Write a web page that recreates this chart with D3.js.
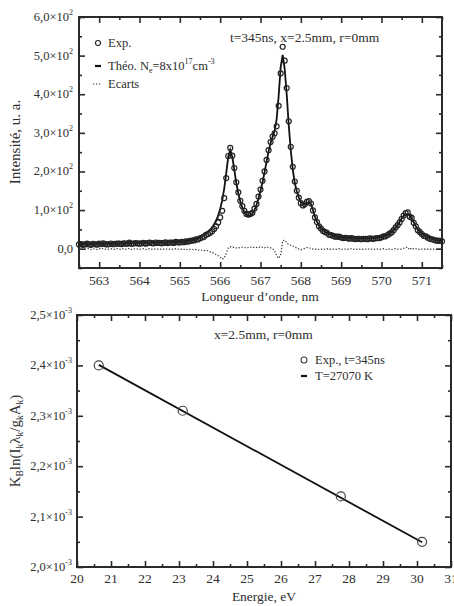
<!DOCTYPE html>
<html>
<head>
<meta charset="utf-8">
<script src="https://cdn.jsdelivr.net/npm/d3@7"></script>
<style>
body { margin: 0; background: #fff; }
svg text { font-family: "Liberation Serif", "DejaVu Serif", serif; fill: #2e2e2e; }
</style>
</head>
<body>
<svg id="chart" width="454" height="606" font-family="Liberation Serif, serif"></svg>
<script>
// ---- top panel: spectrum (wavelength grid 562.5 .. 571.5 nm, step 0.05) ----
const wlStart = 562.5, wlStep = 0.05;
const theoI = [
  12,12,12,12,12,12,12,12.5,12.5,12.5,13,13,13,13,13,13,13.5,13.5,13.5,13.5,
  14,14,14,14,14,14.5,14.5,14.5,14.5,15,15,15,15,15,15.5,15.5,15.5,16,16,16,
  16,16,16,16.5,16.5,17,17,17,17.5,17.5,18,18.5,19,20,21,22,23,24.5,26,28,
  30,33,36,40,44,49,55,63,73,86,103,125,155,195,238,256,238,205,170,143,
  122,106,95,88,85,86,91,100,113,130,150,172,198,225,252,274,290,305,335,395,
  470,502,465,400,320,255,205,170,148,133,121,114,114,118,121,116,100,83,70,60,
  53,48,44,41,38,36,34.5,33,32,31,30,29.5,29,28.5,28,27.5,27,27,26.5,26.5,
  26.5,26.5,26.5,26.5,27,27,27.5,28,28.5,29.5,30.5,32,34,36.5,40,44,49,55,62,70,
  78,85,89,90,86,78,68,58,50,44,39,35,32,29.5,27.5,25.5,24,23,22,21,
  20
];
const expI = [
  11,12,10,11,13,11,10,12.5,11.5,10.5,13,12,14,12,11,12,13.5,11.5,12.5,13.5,
  13,12,14,13,13,15.5,12.5,13.5,14.5,14,13,14,15,13,14.5,15.5,14.5,14,16,15,
  15,14,15,16.5,14.5,16,16,15,17.5,16.5,16,17.5,17,19,18,20,21,21.5,24,24,
  27,29,31,36,38,41,45,51,58,68,81,98,131,183,240,261,241,209,172,146,
  124,110,98,90,88,90,93,104,116,135,153,176,200,230,255,276,290,299,317,370,
  454,523,487,416,330,264,212,174,150,132,118,112,115,121,123,117,99,81,69,58,
  52,46,43,41,36,35,33.5,31,31,31,29,27.5,28,27.5,26,27.5,26,25,25.5,25.5,
  24.5,25.5,25.5,24.5,27,26,25.5,27,27.5,27.5,29.5,32,32,35.5,39,42,48,55,61,68,
  77,86,92,94,83,80,67,58,48,43,38,33,32,28.5,25.5,24.5,23,21,21,20,
  19
];
const ecarts = [
  -1,0,-2,-1,1,-1,-2,0,-1,-2,0,-1,1,-1,-2,-1,0,-2,-1,0,
  -1,-2,0,-1,-1,1,-2,-1,0,-1,-2,-1,0,-2,-1,0,-1,-2,0,-1,
  -1,-2,-1,0,-2,-1,-1,-2,0,-1,-2,-1,-2,-1,-3,-2,-2,-3,-2,-4,
  -3,-4,-5,-4,-6,-8,-10,-12,-15,-18,-22,-27,-24,-12,2,5,3,4,2,3,
  2,4,3,2,3,4,2,4,3,5,3,4,2,5,3,2,0,-6,-18,-25,
  -16,21,22,16,10,9,7,4,2,-1,-3,-2,1,3,2,1,-1,-2,-1,-2,
  -1,-2,-1,0,-2,-1,-1,-2,-1,0,-1,-2,-1,-1,-2,0,-1,-2,-1,-1,
  -2,-1,-1,-2,0,-1,-2,-1,-1,-2,-1,0,-2,-1,-1,-2,-1,0,-1,-2,
  -1,1,3,4,-3,2,-1,0,-2,-1,-1,-2,0,-1,-2,-1,-1,-2,-1,-1,
  -1
];
const wlTicks = [563, 564, 565, 566, 567, 568, 569, 570, 571];
const intTicks = [0, 100, 200, 300, 400, 500, 600];

// ---- bottom panel: Boltzmann plot ----
const energy = [20.64, 23.11, 27.76, 30.15];
const boltz = [2.400e-3, 2.310e-3, 2.140e-3, 2.050e-3];
const fitE = [20.64, 30.15];
const fitY = [2.401e-3, 2.049e-3];
const eTicks = [20, 21, 22, 23, 24, 25, 26, 27, 28, 29, 30, 31];
const bTicks = [2.0e-3, 2.1e-3, 2.2e-3, 2.3e-3, 2.4e-3, 2.5e-3];

const svg = d3.select("#chart");
const ink = "#2a2a2a";

// draws inward ticks on all four sides plus the frame
function frame(x, y, xMajor, xMinor, yMajor, yMinor) {
    const [x0, x1] = x.range();
    const [y0, y1] = y.range(); // y0 bottom, y1 top
    const g = svg.append("g");
    const sides = [
        [d3.axisBottom, x, y0, xMajor, -6], [d3.axisBottom, x, y0, xMinor, -3],
        [d3.axisTop, x, y1, xMajor, -6], [d3.axisTop, x, y1, xMinor, -3],
    ];
    sides.forEach(([ax, sc, pos, vals, len]) => {
        g.append("g").attr("transform", `translate(0,${pos})`)
            .call(ax(sc).tickValues(vals).tickSize(len).tickFormat(""));
    });
    [[d3.axisLeft, x0, yMajor, -6], [d3.axisLeft, x0, yMinor, -3],
     [d3.axisRight, x1, yMajor, -6], [d3.axisRight, x1, yMinor, -3]].forEach(([ax, pos, vals, len]) => {
        g.append("g").attr("transform", `translate(${pos},0)`)
            .call(ax(y).tickValues(vals).tickSize(len).tickFormat(""));
    });
    g.selectAll(".domain").remove();
    g.selectAll("line").attr("stroke", ink).attr("stroke-width", 1.6);
    g.append("rect")
        .attr("x", x0).attr("y", y1)
        .attr("width", x1 - x0).attr("height", y0 - y1)
        .attr("fill", "none").attr("stroke", ink).attr("stroke-width", 2);
}

// "m,n×10^e" tick label
function sciLabel(sel, mant, exp) {
    sel.append("tspan").text(mant + "\u00d710");
    sel.append("tspan").attr("dy", -6).attr("font-size", 8).text(exp);
}

// ================= top panel =================
const x1 = d3.scaleLinear().domain([562.5, 571.5]).range([79, 442]);
const y1 = d3.scaleLinear().domain([-50, 600]).range([268, 17]);
const wl = theoI.map((d, i) => wlStart + i * wlStep);

frame(x1, y1, wlTicks, d3.range(562.5, 571.6, 1), intTicks, d3.range(-50, 600, 100));

svg.append("path")
    .datum(ecarts)
    .attr("fill", "none").attr("stroke", "#333").attr("stroke-width", 1.2)
    .attr("stroke-dasharray", "1.3,1.7")
    .attr("d", d3.line().x((d, i) => x1(wl[i])).y(d => y1(d)));

svg.append("path")
    .datum(theoI)
    .attr("fill", "none").attr("stroke", "#111").attr("stroke-width", 1.8)
    .attr("d", d3.line().x((d, i) => x1(wl[i])).y(d => y1(d)));

svg.append("g").selectAll("circle")
    .data(expI).join("circle")
    .attr("cx", (d, i) => x1(wl[i]))
    .attr("cy", d => y1(d))
    .attr("r", 2.5)
    .attr("fill", "none").attr("stroke", "#222").attr("stroke-width", 1.2);

svg.append("g").selectAll("text")
    .data(wlTicks).join("text")
    .attr("x", d => x1(d)).attr("y", 285)
    .attr("text-anchor", "middle").attr("font-size", 13.5)
    .text(d => d);

svg.append("g").selectAll("text")
    .data(intTicks).join("text")
    .attr("x", 73).attr("y", d => y1(d) + 4)
    .attr("text-anchor", "end").attr("font-size", 12.5)
    .each(function(d) {
        const t = d3.select(this);
        if (d == 0) t.text("0,0");
        else sciLabel(t, (d / 100).toFixed(1).replace(".", ","), "2");
    });

svg.append("text")
    .attr("x", 260).attr("y", 301)
    .attr("text-anchor", "middle").attr("font-size", 13.5)
    .text("Longueur d\u2019onde, nm");

svg.append("text")
    .attr("transform", "translate(20,142) rotate(-90)")
    .attr("text-anchor", "middle").attr("font-size", 15)
    .text("Intensit\u00e9, u. a.");

svg.append("text")
    .attr("x", 230).attr("y", 42).attr("font-size", 13.5)
    .text("t=345ns, x=2.5mm, r=0mm");

// legend top
svg.append("circle").attr("cx", 98).attr("cy", 43).attr("r", 2.5)
    .attr("fill", "none").attr("stroke", "#222").attr("stroke-width", 1.1);
svg.append("text").attr("x", 108).attr("y", 47).attr("font-size", 12.5).text("Exp.");
svg.append("line").attr("x1", 95).attr("x2", 101).attr("y1", 66).attr("y2", 66)
    .attr("stroke", "#111").attr("stroke-width", 2.2);
const theoLab = svg.append("text").attr("x", 108).attr("y", 70).attr("font-size", 12.5);
theoLab.append("tspan").text("Th\u00e9o. N");
theoLab.append("tspan").attr("dy", 3).attr("font-size", 8).text("e");
theoLab.append("tspan").attr("dy", -3).text("=8x10");
theoLab.append("tspan").attr("dy", -6).attr("font-size", 8).text("17");
theoLab.append("tspan").attr("dy", 6).text("cm");
theoLab.append("tspan").attr("dy", -6).attr("font-size", 8).text("-3");
svg.append("line").attr("x1", 93).attr("x2", 102).attr("y1", 84).attr("y2", 84)
    .attr("stroke", "#333").attr("stroke-width", 1.2).attr("stroke-dasharray", "1.3,1.7");
svg.append("text").attr("x", 108).attr("y", 88).attr("font-size", 12.5).text("Ecarts");

// ================= bottom panel =================
const x2 = d3.scaleLinear().domain([20, 31]).range([77, 451]);
const y2 = d3.scaleLinear().domain([2.0e-3, 2.5e-3]).range([567, 315]);

frame(x2, y2, eTicks, d3.range(20.5, 31, 1), bTicks, d3.range(2.05e-3, 2.5e-3, 0.1e-3));

svg.append("path")
    .datum(fitE)
    .attr("fill", "none").attr("stroke", "#111").attr("stroke-width", 1.8)
    .attr("d", d3.line().x(d => x2(d)).y((d, i) => y2(fitY[i])));

svg.append("g").selectAll("circle")
    .data(energy).join("circle")
    .attr("cx", d => x2(d))
    .attr("cy", (d, i) => y2(boltz[i]))
    .attr("r", 4.5)
    .attr("fill", "none").attr("stroke", "#444").attr("stroke-width", 1.2);

svg.append("g").selectAll("text")
    .data(eTicks).join("text")
    .attr("x", d => x2(d)).attr("y", 583)
    .attr("text-anchor", "middle").attr("font-size", 13.5)
    .text(d => d);

svg.append("g").selectAll("text")
    .data(bTicks).join("text")
    .attr("x", 72).attr("y", d => y2(d) + 4)
    .attr("text-anchor", "end").attr("font-size", 12.5)
    .each(function(d) {
        sciLabel(d3.select(this), (d * 1000).toFixed(1).replace(".", ","), "-3");
    });

svg.append("text")
    .attr("x", 264).attr("y", 601)
    .attr("text-anchor", "middle").attr("font-size", 13.5)
    .text("Energie, eV");

const yLab = svg.append("text")
    .attr("transform", "translate(20,441) rotate(-90)")
    .attr("text-anchor", "middle").attr("font-size", 15);
[["K", 0], ["B", 1], ["ln(I", 0], ["k", 1], ["\u03bb", 0], ["k", 1], ["/g", 0], ["k", 1], ["A", 0], ["k", 1], [")", 0]]
    .forEach(([s, sub], i, arr) => {
        const prevSub = i > 0 ? arr[i - 1][1] : 0;
        yLab.append("tspan")
            .attr("dy", sub ? 3 : (prevSub ? -3 : 0))
            .attr("font-size", sub ? 9.5 : null)
            .text(s);
    });

svg.append("text")
    .attr("x", 214).attr("y", 339).attr("font-size", 13.5)
    .text("x=2.5mm, r=0mm");

// legend bottom
svg.append("circle").attr("cx", 304).attr("cy", 360).attr("r", 3)
    .attr("fill", "none").attr("stroke", "#444").attr("stroke-width", 1.1);
svg.append("text").attr("x", 315).attr("y", 364).attr("font-size", 12.5).text("Exp., t=345ns");
svg.append("line").attr("x1", 301).attr("x2", 307).attr("y1", 376).attr("y2", 376)
    .attr("stroke", "#111").attr("stroke-width", 2.2);
svg.append("text").attr("x", 315).attr("y", 380).attr("font-size", 12.5).text("T=27070 K");
</script>
</body>
</html>
